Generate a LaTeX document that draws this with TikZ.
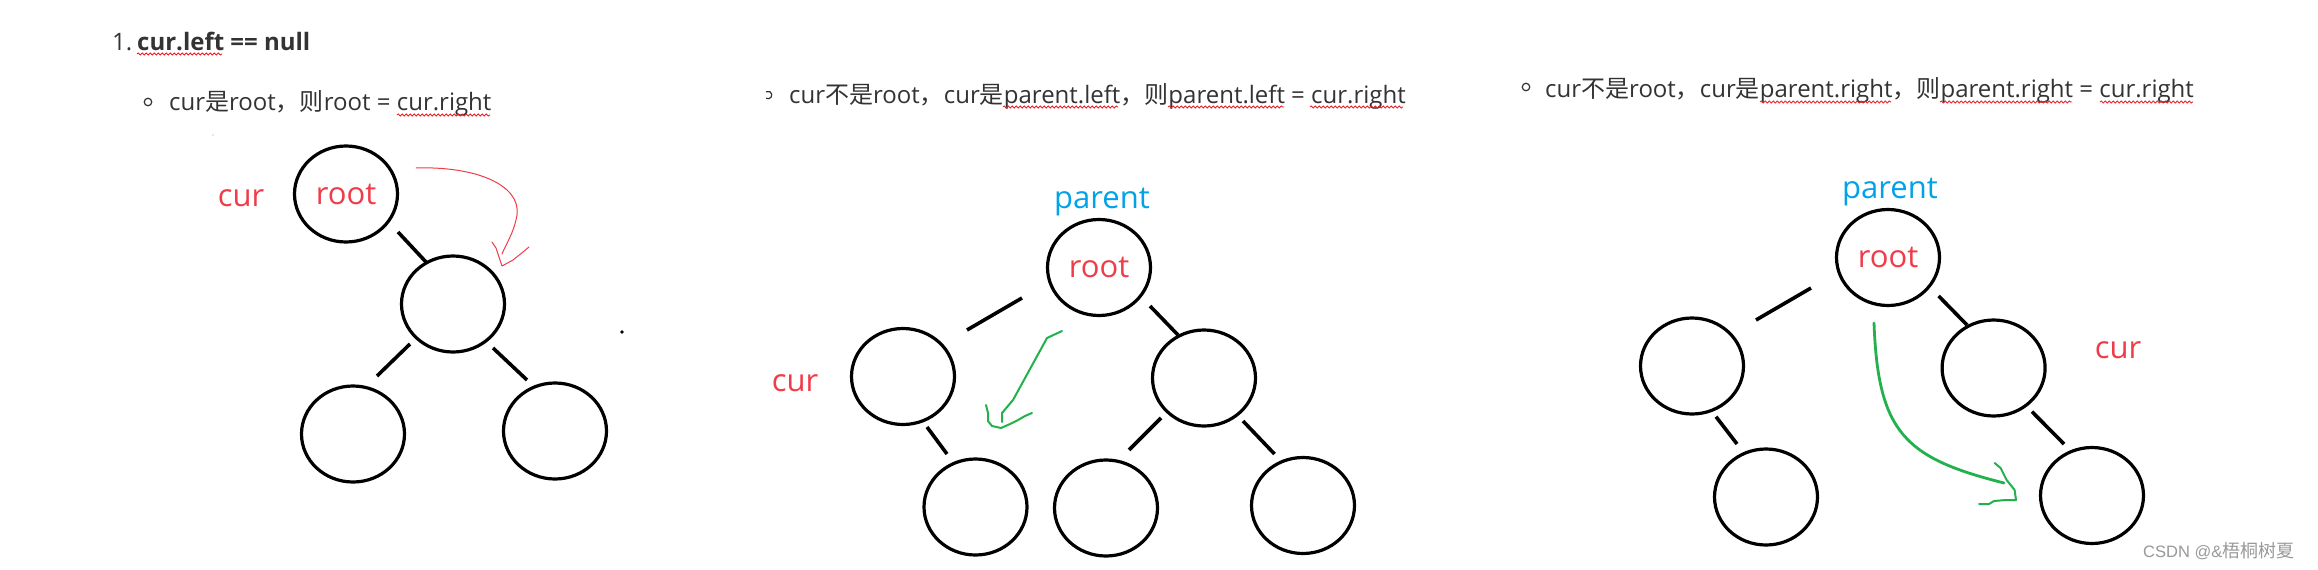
\documentclass[tikz,border=0pt]{standalone}
\usepackage{fontspec}
\setmainfont{Open Sans}
\newfontfamily\cjk{Noto Sans CJK SC}
\newfontfamily\wmlatin{Liberation Sans}
\usetikzlibrary{shapes.geometric,decorations.pathmorphing}
\definecolor{pred}{HTML}{ED1C24}
\definecolor{lred}{HTML}{F03C48}
\definecolor{pblue}{HTML}{00A2E8}
\definecolor{pgreen}{HTML}{22B14C}
\definecolor{txt}{HTML}{333333}
\definecolor{wmgray}{HTML}{999999}
\begin{document}
\begin{tikzpicture}[x=1pt,y=-1pt,
  treenode/.style={draw=black, line width=3.2pt, ellipse, minimum width=103pt, minimum height=96pt, inner sep=0pt, text=lred, font=\fontsize{31}{36}\selectfont},
  conn/.style={line width=3.6pt, black},
  lbl/.style={anchor=base, font=\fontsize{31}{36}\selectfont, inner sep=0pt},
  headtext/.style={anchor=base west, inner sep=0pt, text=txt, font=\fontsize{24}{28}\selectfont},
  squig/.style={pred, line width=0.8pt, decorate, decoration={snake, amplitude=1.1pt, segment length=4pt}},
  bul/.style={draw=txt, line width=1.2pt, circle, minimum size=7.5pt, inner sep=0pt},
  garrow/.style={pgreen, line width=2pt, line cap=round, line join=round},
  rarrow/.style={lred, line width=1pt, line cap=round, line join=round}
]
\fill[white] (0,0) rectangle (2318,570);
\useasboundingbox (0,0) rectangle (2318,570);

% ---------- header texts ----------
\node[headtext] (n1) at (112,50) {1.};
\node[headtext, font=\fontsize{24}{28}\selectfont\bfseries] (h1) at (137,50) {cur.left == null};
\draw[squig] (137,54) -- (222,54);

\node[bul] (b1) at (148,102) {};
\node[headtext] (t1) at (169,110) {cur{\cjk 是}root{\cjk ，则}root = cur.right};
\draw[squig] (397,115) -- (490,115);

\coordinate (b2) at (768,95);
\draw[txt, line width=1.2pt] ([shift={(120:3.8)}]b2) arc[start angle=120, end angle=-120, radius=3.8];
\node[headtext] (t2) at (789,103) {cur{\cjk 不是}root{\cjk ，}cur{\cjk 是}parent.left{\cjk ，则}parent.left = cur.right};
\draw[squig] (1003,107) -- (1118,107);
\draw[squig] (1168,107) -- (1284,107);
\draw[squig] (1310,107) -- (1403,107);

\node[bul] (b3) at (1526,87) {};
\node[headtext] (t3) at (1545,97) {cur{\cjk 不是}root{\cjk ，}cur{\cjk 是}parent.right{\cjk ，则}parent.right = cur.right};
\draw[squig] (1760,102) -- (1891,102);
\draw[squig] (1940,102) -- (2072,102);
\draw[squig] (2100,102) -- (2193,102);

% ---------- panel 1 ----------
\node[treenode] (r1) at (346,194) {root};
\node[treenode] (m1) at (453,304) {};
\node[treenode] (a1) at (353,434) {};
\node[treenode] (c1n) at (555,431) {};
\draw[conn] ([shift={(52,38)}]r1.center) -- ([shift={(-27,-42)}]m1.center);
\draw[conn] ([shift={(-43,40)}]m1.center) -- ([shift={(24,-58)}]a1.center);
\draw[conn] ([shift={(40,44)}]m1.center) -- ([shift={(-28,-51)}]c1n.center);
\node[lbl, text=lred] (cur1) at (241,206) {cur};
\draw[rarrow] ([shift={(70,-26)}]r1.center) .. controls +(60,-2) and +(4,-30) .. ++(101,47)
   .. controls +(-3,18) and +(3,-8) .. ([shift={(49,-50)}]m1.center);
\coordinate (tip1) at ([shift={(49,-38)}]m1.center);
\draw[rarrow] ([shift={(39,-62)}]m1.center) -- ++(4,6) -- ++(2,6) -- (tip1) -- ++(11,-6) -- ++(10,-8) -- ++(6,-5);
\fill (622,332) circle (1.8);
\fill[pred!60] (213,135) circle (0.7);

% ---------- panel 2 ----------
\node[treenode] (r2) at (1099,267.5) {root};
\node[treenode] (l2) at (903,376.5) {};
\node[treenode] (q2) at (1204,378) {};
\node[treenode] (ll2) at (975.5,507) {};
\node[treenode] (ql2) at (1106,508) {};
\node[treenode] (qr2) at (1303,505.5) {};
\draw[conn] ([shift={(-77,30.5)}]r2.center) -- ([shift={(64,-46.5)}]l2.center);
\draw[conn] ([shift={(51,38.5)}]r2.center) -- ([shift={(-26,-43)}]q2.center);
\draw[conn] ([shift={(24,50.5)}]l2.center) -- ([shift={(-28.5,-53)}]ll2.center);
\draw[conn] ([shift={(-43,40)}]q2.center) -- ([shift={(23,-58)}]ql2.center);
\draw[conn] ([shift={(39,43)}]q2.center) -- ([shift={(-28.5,-51.5)}]qr2.center);
\node[lbl, text=pblue] (p2) at (1102,208) {parent};
\node[lbl, text=lred] (cur2) at (795,391) {cur};
\coordinate (tip2) at ([shift={(98,51.5)}]l2.center);
\draw[garrow] ([shift={(-37,63.5)}]r2.center) -- ++(-15,7) -- ++(-34,62) -- ++(-11,13) -- ++(0,9);
\draw[garrow] ([shift={(83,28.5)}]l2.center) -- ++(2,8) -- ++(0,8) -- ++(4,5) -- (tip2) -- ++(9,-4) -- ++(8,-4) -- ++(7,-4) -- ++(7,-3);

% ---------- panel 3 ----------
\node[treenode] (r3) at (1888,257.5) {root};
\node[treenode] (l3) at (1692,366) {};
\node[treenode] (q3) at (1993.6,368) {};
\node[treenode] (ll3) at (1766,497) {};
\node[treenode] (qr3) at (2092,495.5) {};
\draw[conn] ([shift={(-77,30.5)}]r3.center) -- ([shift={(64,-46)}]l3.center);
\draw[conn] ([shift={(50.6,38.5)}]r3.center) -- ([shift={(-26.6,-43)}]q3.center);
\draw[conn] ([shift={(24,50.7)}]l3.center) -- ([shift={(-29,-53)}]ll3.center);
\draw[conn] ([shift={(38.4,43.7)}]q3.center) -- ([shift={(-28,-51.5)}]qr3.center);
\node[lbl, text=pblue] (p3) at (1890,198) {parent};
\node[lbl, text=lred] (cur3) at (2118,358) {cur};
\coordinate (tip3) at ([shift={(-76,4.5)}]qr3.center);
\draw[garrow, line width=2.8pt] ([shift={(-14,65.5)}]r3.center) .. controls +(4,110) and +(-99,-25) .. ([shift={(-88,-12.5)}]qr3.center);
\draw[garrow] ([shift={(-97.4,-32.5)}]qr3.center) -- ++(6,5) -- ++(6,12) -- ++(8,10) -- (tip3) -- ++(-10,0) -- ++(-12,1) -- ++(-5,3) -- ++(-10,0);

% ---------- watermark ----------
\node[anchor=base west, inner sep=0pt, text=wmgray, font=\wmlatin\fontsize{16.5}{20}\selectfont] (wm) at (2143,557) {CSDN @\&{\cjk\fontsize{18}{20}\selectfont 梧桐树夏}};
\end{tikzpicture}
\end{document}
